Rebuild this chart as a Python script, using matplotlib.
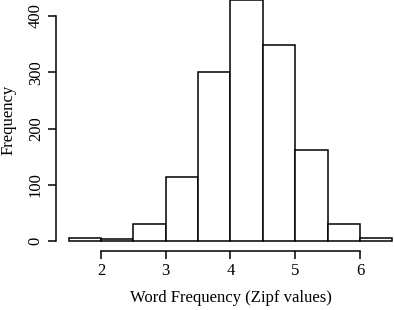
import matplotlib.pyplot as plt
import numpy as np

plt.rcParams['font.family'] = ['Liberation Serif', 'DejaVu Serif']

bin_edges = [1.5, 2.0, 2.5, 3.0, 3.5, 4.0, 4.5, 5.0, 5.5, 6.0, 6.5]
counts = [5, 4, 30, 114, 300, 428, 348, 162, 30, 5]
x_ticks = [2, 3, 4, 5, 6]
y_ticks = [0, 100, 200, 300, 400]

fig = plt.figure(figsize=(3.94, 3.10), dpi=100)
ax = fig.add_axes([0.1411, 0.1913, 0.8876, 0.8426])

ax.hist(np.array(bin_edges[:-1]) + 0.25, bins=bin_edges, weights=counts,
        facecolor='white', edgecolor='black', linewidth=1.1)

ax.set_xlim(1.3, 6.7)
ax.set_ylim(-17.2, 447.2)

for s in ['top', 'right']:
    ax.spines[s].set_visible(False)
ax.spines['left'].set_bounds(0, 400)
ax.spines['bottom'].set_bounds(2, 6)
ax.spines['left'].set_linewidth(1.1)
ax.spines['bottom'].set_linewidth(1.1)

ax.set_xticks(x_ticks)
ax.set_yticks(y_ticks)
ax.set_yticklabels([str(v) for v in y_ticks], rotation=90, va='center')
ax.tick_params(axis='both', direction='out', length=5.5, width=1.1,
               labelsize=12, pad=3)

ax.set_xlabel("Word Frequency (Zipf values)", fontsize=12, labelpad=8)
ax.set_ylabel("Frequency", fontsize=12, labelpad=8)

fig.savefig("out.png", dpi=100)
